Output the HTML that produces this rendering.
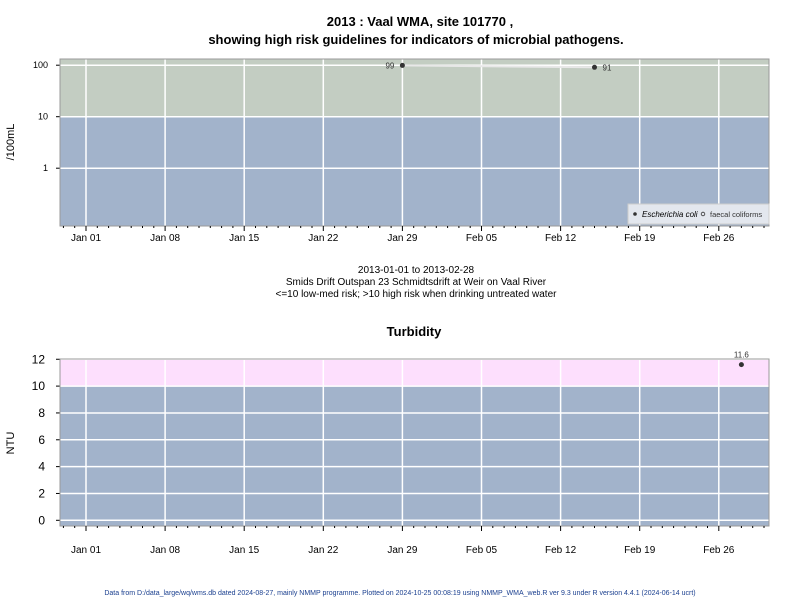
<!DOCTYPE html>
<html><head><meta charset="utf-8"><style>
body{margin:0;background:#fff;width:800px;height:600px;overflow:hidden}
svg{font-family:"Liberation Sans",Arial,sans-serif}
</style></head><body>
<svg width="800" height="600">
<text x="420" y="26" text-anchor="middle" font-size="13" font-weight="bold">2013 : Vaal WMA, site 101770 ,</text>
<text x="416" y="44" text-anchor="middle" font-size="13" font-weight="bold">showing high risk guidelines for indicators of microbial pathogens.</text>
<g id="top"></g>
<text x="416" y="273" text-anchor="middle" font-size="10">2013-01-01 to 2013-02-28</text>
<text x="416" y="285" text-anchor="middle" font-size="10">Smids Drift Outspan 23 Schmidtsdrift at Weir on Vaal River</text>
<text x="416" y="297" text-anchor="middle" font-size="10">&lt;=10 low-med risk; &gt;10 high risk when drinking untreated water</text>
<text x="414" y="336" text-anchor="middle" font-size="13" font-weight="bold">Turbidity</text>
<g id="bot"></g>
<text x="400" y="595" text-anchor="middle" font-size="7" fill="#1a3f8f">Data from D:/data_large/wq/wms.db dated 2024-08-27, mainly NMMP programme. Plotted on 2024-10-25 00:08:19 using NMMP_WMA_web.R ver 9.3 under R version 4.4.1 (2024-06-14 ucrt)</text>
</svg>
<script>
const xTickLabels=["Jan 01","Jan 08","Jan 15","Jan 22","Jan 29","Feb 05","Feb 12","Feb 19","Feb 26"];
const ecoliDays=[28,45];
const ecoliValues=[99,91];
const turbDays=[58];
const turbValues=[11.6];
const logTicks=[1,10,100];
const turbTicks=[0,2,4,6,8,10,12];
const NS="http://www.w3.org/2000/svg";
const L=60,R=769,X0=86,PD=11.3;
const xs=d=>X0+d*PD;
function mk(p,t,a){const e=document.createElementNS(NS,t);for(const k in a)e.setAttribute(k,a[k]);p.appendChild(e);return e;}
function xaxis(g,bottom,labOff){
  xTickLabels.forEach((s,i)=>{const x=xs(i*7);
    const l=mk(g,'line',{x1:x,x2:x,y1:bottom,y2:bottom+5,stroke:'#000'});
    
    const t=mk(g,'text',{x:x,y:bottom+labOff,'text-anchor':'middle','font-size':10});t.textContent=s;
    });
  for(let d=-2;d<=60;d++){if(d%7===0)continue;const x=xs(d);if(x<L||x>R)continue;
    const m=mk(g,'line',{x1:x,x2:x,y1:bottom,y2:bottom+2,stroke:'#000'});
    }
}
function vgrid(g,top,bottom){xTickLabels.forEach((s,i)=>{const x=xs(i*7);
  const l=mk(g,'line',{x1:x,x2:x,y1:top,y2:bottom,stroke:'#fff','stroke-width':1.5});
  });}
// top panel
(function(){const g=document.getElementById('top');const T=59,B=226;
  const ys=v=>116.7-Math.log10(v/10)*51.5;
  let r=mk(g,'rect',{x:L,y:T,width:R-L,height:ys(10)-T,fill:'#c3cdc2'});
  r=mk(g,'rect',{x:L,y:ys(10),width:R-L,height:B-ys(10),fill:'#a2b3cb'});
  vgrid(g,T,B);
  logTicks.forEach(v=>{const y=ys(v);
    const l=mk(g,'line',{x1:L,x2:R,y1:y,y2:y,stroke:'#fff','stroke-width':1.5});
    const tk=mk(g,'line',{x1:L-4,x2:L,y1:y,y2:y,stroke:'#000'});
    const t=mk(g,'text',{x:L-12,y:y+3,'text-anchor':'end','font-size':9});t.textContent=v;});
  let b=mk(g,'rect',{x:L,y:T,width:R-L,height:B-T,fill:'none',stroke:'#999'});
  const yl=mk(g,'text',{x:14,y:142,'text-anchor':'middle','font-size':11,transform:'rotate(-90 14 142)'});yl.textContent='/100mL';
  const ln=mk(g,'polyline',{points:ecoliDays.map((d,i)=>xs(d)+','+ys(ecoliValues[i])).join(' '),fill:'none',stroke:'#e8e8e8','stroke-width':2});
  ecoliDays.forEach((d,i)=>{const x=xs(d),y=ys(ecoliValues[i]);
    const c=mk(g,'circle',{cx:x,cy:y,r:2.5,fill:'#333'});
    const t=mk(g,'text',{x:i===0?x-8:x+8,y:y+3,'text-anchor':i===0?'end':'start','font-size':8,fill:'#333'});t.textContent=ecoliValues[i];});
  const lg=mk(g,'g',{});
  mk(lg,'rect',{x:628,y:204,width:141,height:20,fill:'#e3e7ee',stroke:'#ccc'});
  mk(lg,'circle',{cx:635,cy:214,r:1.8,fill:'#333'});
  let t=mk(lg,'text',{x:642,y:217,'font-size':8,'font-style':'italic'});t.textContent='Escherichia coli';
  mk(lg,'circle',{cx:703,cy:214,r:1.8,fill:'none',stroke:'#333','stroke-width':0.8});
  t=mk(lg,'text',{x:710,y:217,'font-size':7.5,fill:'#333'});t.textContent='faecal coliforms';
  xaxis(g,B,15);
})();
// bottom panel
(function(){const g=document.getElementById('bot');const T=359,B=526;
  const ys=v=>520.3-v*13.42;
  let r=mk(g,'rect',{x:L,y:T,width:R-L,height:ys(10)-T,fill:'#fddffd'});
  r=mk(g,'rect',{x:L,y:ys(10),width:R-L,height:B-ys(10),fill:'#a2b3cb'});
  vgrid(g,T,B);
  turbTicks.forEach(v=>{const y=ys(v);
    const l=mk(g,'line',{x1:L,x2:R,y1:y,y2:y,stroke:'#fff','stroke-width':1.5});
    const tk=mk(g,'line',{x1:L-4,x2:L,y1:y,y2:y,stroke:'#000'});
    const t=mk(g,'text',{x:L-15,y:y+4,'text-anchor':'end','font-size':12});t.textContent=v;});
  let b=mk(g,'rect',{x:L,y:T,width:R-L,height:B-T,fill:'none',stroke:'#999'});
  const yl=mk(g,'text',{x:14,y:443,'text-anchor':'middle','font-size':11,transform:'rotate(-90 14 443)'});yl.textContent='NTU';
  turbDays.forEach((d,i)=>{const x=xs(d),y=ys(turbValues[i]);
    const c=mk(g,'circle',{cx:x,cy:y,r:2.5,fill:'#333'});
    const t=mk(g,'text',{x:x,y:y-7,'text-anchor':'middle','font-size':8,fill:'#333'});t.textContent=turbValues[i];});
  xaxis(g,B,27);
})();
</script>
</body></html>
